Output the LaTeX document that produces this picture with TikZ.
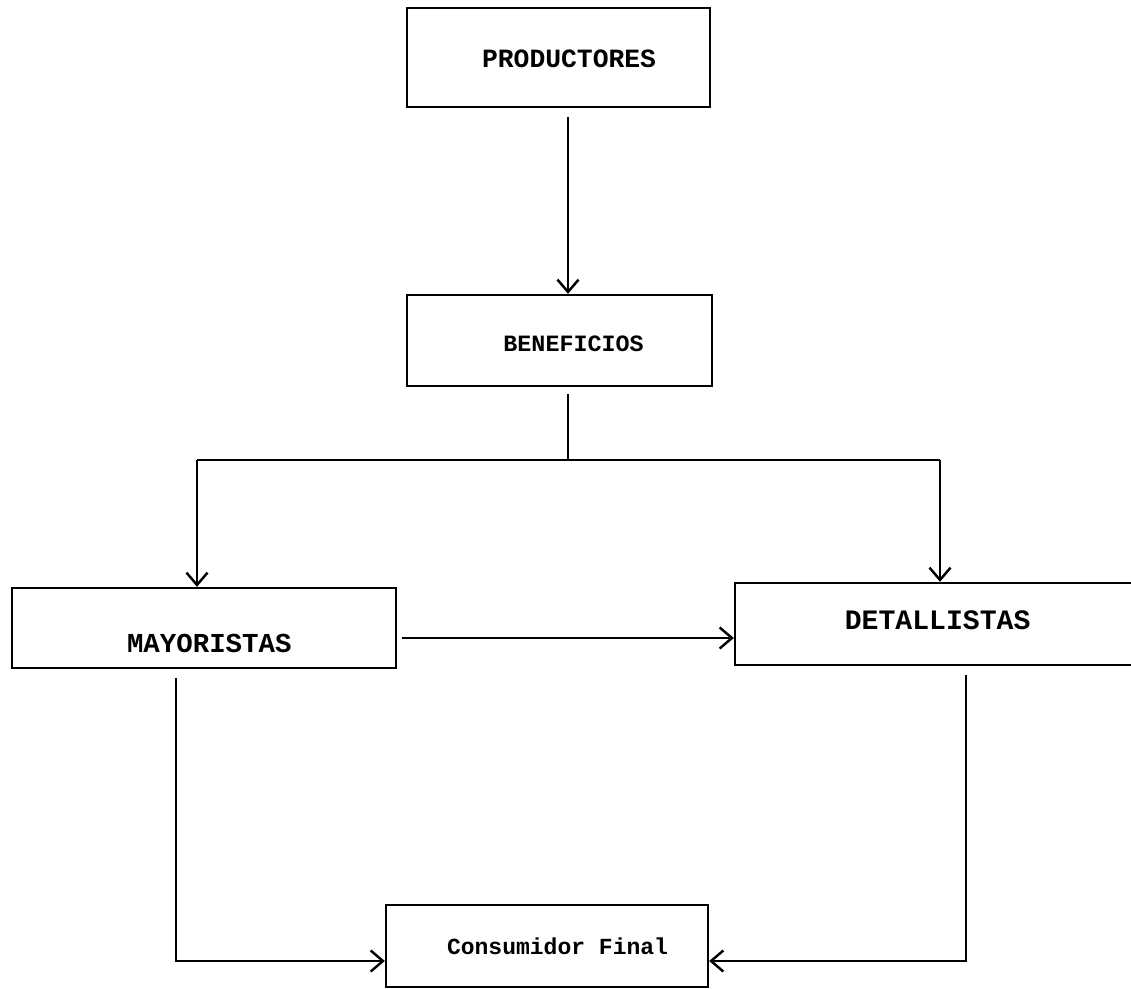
\documentclass[tikz,border=0pt]{standalone}
\usepackage{fontspec}
\newfontfamily\typefont{Liberation Mono}
\usetikzlibrary{arrows.meta,calc}

\begin{document}
\begin{tikzpicture}[x=0.02cm,y=-0.02cm,
  box/.style={draw,line width=1.35pt,rectangle,inner sep=0pt},
  flow/.style={line width=1.2pt},
  tip/.style={-{Straight Barb[length=7pt,width=12pt,line width=1.4pt]}},
  lbl/.style={font=\typefont\bfseries}]
  \useasboundingbox (0,0) rectangle (1131,989);

  % boxes
  \node[box,minimum width=6.06cm,minimum height=1.98cm,
        label={[lbl,font=\typefont\bfseries\fontsize{15}{18}\selectfont,xshift=6pt,yshift=-1pt]center:PRODUCTORES}]
        (prod) at (558.5,57.5) {};
  \node[box,minimum width=6.10cm,minimum height=1.82cm,
        label={[lbl,font=\typefont\bfseries\fontsize{13.3}{16}\selectfont,xshift=8pt,yshift=-2pt]center:BENEFICIOS}]
        (ben) at (559.5,340.5) {};
  \node[box,minimum width=7.68cm,minimum height=1.60cm,
        label={[lbl,font=\typefont\bfseries\fontsize{15.6}{18}\selectfont,xshift=3pt,yshift=-9pt]center:MAYORISTAS}]
        (may) at (204,628) {};
  \node[box,minimum width=8.00cm,minimum height=1.64cm,
        label={[lbl,font=\typefont\bfseries\fontsize{16}{19}\selectfont,xshift=1.5pt,yshift=2pt]center:DETALLISTAS}]
        (det) at (935,624) {};
  \node[box,minimum width=6.44cm,minimum height=1.64cm,
        label={[lbl,font=\typefont\bfseries\fontsize{13.1}{16}\selectfont,xshift=6pt,yshift=0pt]center:Consumidor Final}]
        (cons) at (547,946) {};

  % guide columns and the branching point
  \coordinate (spine) at (568,0);
  \coordinate (split) at (568,460);
  \coordinate (leftcol) at (197,0);
  \coordinate (rightcol) at (940,0);
  \coordinate (maycol) at (176,0);
  \coordinate (detcol) at (966,0);
  \coordinate (lowrow) at (0,961);
  \coordinate (midrow) at (0,638);

  % connectors
  \draw[flow,tip,shorten <=5pt] (prod.south -| spine) -- (ben.north -| spine);
  \draw[flow,shorten <=4pt] (ben.south -| spine) -- (split);
  \draw[flow] (split -| leftcol) -- (split -| rightcol);
  \draw[flow,tip] (split -| leftcol) -- (may.north -| leftcol);
  \draw[flow,tip] (split -| rightcol) -- (det.north -| rightcol);
  \draw[flow,tip,shorten <=3pt] (may.east |- midrow) -- (det.west |- midrow);
  \draw[flow,tip,shorten <=5pt] (may.south -| maycol) -- (maycol |- lowrow) -- (cons.west |- lowrow);
  \draw[flow,tip,shorten <=5pt] (det.south -| detcol) -- (detcol |- lowrow) -- (cons.east |- lowrow);
\end{tikzpicture}
\end{document}
